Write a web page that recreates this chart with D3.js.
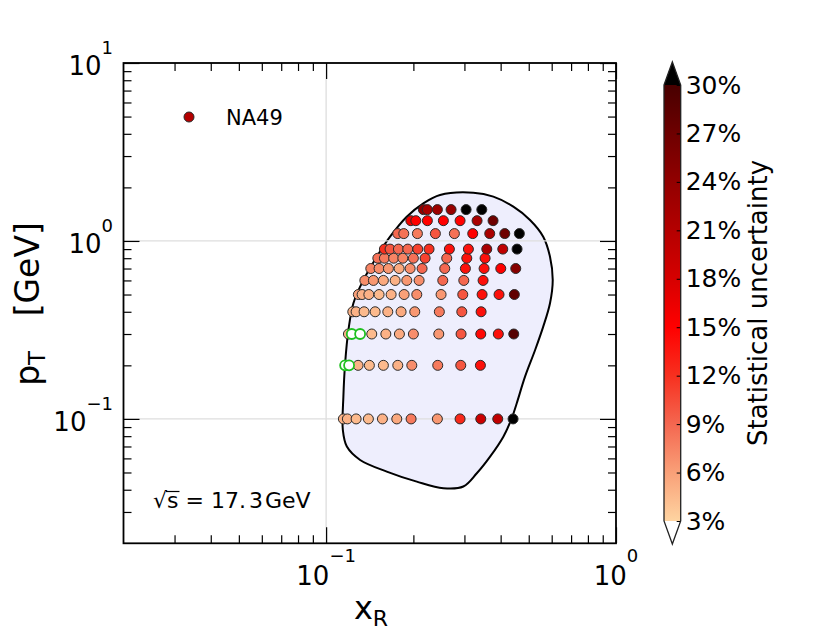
<!DOCTYPE html>
<html>
<head>
<meta charset="utf-8">
<script src="https://cdn.jsdelivr.net/npm/d3@7"></script>
<style>
  body { margin: 0; background: #fff; }
  svg text { font-family: "DejaVu Sans", sans-serif; fill: #000; }
  .tick line { stroke: #000; stroke-width: 1.2; }
</style>
</head>
<body>
<div id="chart"></div>
<script>
// transverse momentum rows (GeV)
var ptRows = [0.1, 0.2, 0.3, 0.4, 0.5, 0.6, 0.7, 0.8, 0.9, 1.1, 1.3, 1.5];

// x_R of each point, one list per pT row
var xrRows = [
  [0.1147, 0.1184, 0.1269, 0.1399, 0.1564, 0.1753, 0.1964, 0.2420, 0.2898, 0.3416, 0.3909, 0.4415],
  [0.1289, 0.1410, 0.1576, 0.1767, 0.1975, 0.2427, 0.2914, 0.3406],
  [0.1194, 0.1437, 0.1607, 0.1790, 0.2000, 0.2447, 0.2921, 0.3416, 0.3927, 0.4439],
  [0.1236, 0.1269, 0.1352, 0.1476, 0.1632, 0.1814, 0.2022, 0.2458, 0.2938, 0.3425],
  [0.1292, 0.1331, 0.1404, 0.1523, 0.1676, 0.1858, 0.2055, 0.2492, 0.2961, 0.3452, 0.3949, 0.4460],
  [0.1360, 0.1456, 0.1576, 0.1730, 0.1898, 0.2093, 0.2526, 0.2985, 0.3479],
  [0.1426, 0.1523, 0.1640, 0.1786, 0.1949, 0.2143, 0.2566, 0.3023, 0.3507, 0.4004, 0.4510],
  [0.1508, 0.1589, 0.1710, 0.1839, 0.2000, 0.2195, 0.2607, 0.3057, 0.3535],
  [0.1589, 0.1662, 0.1776, 0.1913, 0.2071, 0.2265, 0.2662, 0.3096, 0.3583, 0.4068, 0.4557],
  [0.1767, 0.1853, 0.2065, 0.2382, 0.2770, 0.3205, 0.3668, 0.4134, 0.4641],
  [0.1960, 0.2039, 0.2235, 0.2538, 0.2898, 0.3317, 0.3766],
  [0.2165, 0.2235, 0.2420, 0.2698, 0.3040, 0.3444]
];

// statistical uncertainty (%) of each point
var uncRows = [
  [5, 5, 4.5, 4.5, 5, 5.5, 8, 6.5, 12.5, 19, 20, 35],
  [5, 4.5, 4.5, 5, 7, 8, 10, 14],
  [5, 4.5, 5, 5.5, 7, 6.5, 10, 14.5, 14, 29],
  [5, 5, 4.5, 4.5, 5, 5.5, 6.5, 8, 10, 14],
  [6, 5, 5, 4.5, 5, 6, 7, 6.5, 10, 14, 14, 28],
  [7, 6.5, 5.5, 5, 6.5, 7, 9, 9, 14],
  [7.5, 7, 6.5, 5.5, 7, 9, 9, 14, 14, 15, 25],
  [8.5, 8, 7.5, 7.5, 8.5, 11, 9, 14, 14],
  [12, 10, 9, 9, 11, 12, 14, 14, 22, 20, 35],
  [9, 8.5, 8, 10, 8.5, 15, 22, 27, 35],
  [16, 15, 15, 15, 15, 22, 27],
  [24, 22, 23, 23.5, 35, 35]
];

// open green points
var lowXr = [0.1163, 0.1200, 0.1226, 0.1310];
var lowPt = [0.2, 0.2, 0.3, 0.3];

// acceptance region outline
var regionXr = [0.2472, 0.322, 0.3775, 0.4425, 0.505, 0.561, 0.592, 0.605, 0.592, 0.561, 0.526,
  0.4855, 0.4546, 0.437, 0.4087, 0.3678, 0.331, 0.2974, 0.2538, 0.2055, 0.1619, 0.131, 0.1179,
  0.1142, 0.1147, 0.1163, 0.1194, 0.1242, 0.1345, 0.1496, 0.1662, 0.1897, 0.2165];
var regionPt = [1.814, 1.867, 1.774, 1.558, 1.312, 1.057, 0.816, 0.604, 0.4467, 0.330, 0.244,
  0.1728, 0.1225, 0.1009, 0.0795, 0.0614, 0.0495, 0.0417, 0.0408, 0.0444, 0.0506, 0.0588, 0.0699,
  0.0867, 0.1334, 0.2055, 0.3162, 0.4467, 0.604, 0.816, 1.057, 1.369, 1.628];

// colour map
var cbStops = [3, 6, 9, 12, 15, 18, 21, 24, 27, 30];
var cbColors = ["#fed4a1", "#f9a078", "#f46750", "#f7301f", "#ff0000", "#d60000", "#b40000", "#920000", "#6e0000", "#480000"];
var cbTicks = [3, 6, 9, 12, 15, 18, 21, 24, 27, 30];

var xMajor = [0.1, 1], xMinor = [0.03, 0.04, 0.05, 0.06, 0.07, 0.08, 0.09, 0.2, 0.3, 0.4, 0.5, 0.6, 0.7, 0.8, 0.9];
var yMajor = [0.1, 1, 10], yMinor = [0.03, 0.04, 0.05, 0.06, 0.07, 0.08, 0.09, 0.2, 0.3, 0.4, 0.5, 0.6, 0.7, 0.8, 0.9, 2, 3, 4, 5, 6, 7, 8, 9];
var xLabels = [[0.1, "\u22121"], [1, "0"]];
var yLabels = [[0.1, "\u22121"], [1, "0"], [10, "1"]];

var width = 830, height = 639;
var plot = {left: 123.5, right: 616, top: 63, bottom: 543.3};

var svg = d3.select("#chart").append("svg")
    .attr("width", width)
    .attr("height", height);

var x = d3.scaleLog().domain([0.02, 1]).range([plot.left, plot.right]);
var y = d3.scaleLog().domain([0.02, 10]).range([plot.bottom, plot.top]);

var color = d3.scaleLinear().domain(cbStops).range(cbColors).clamp(true);
function fillFor(v) { return v > 30 ? "#000" : (v < 3 ? "#fff" : color(v)); }

// region
var line = d3.line()
    .x(function(d) { return x(d[0]); })
    .y(function(d) { return y(d[1]); })
    .curve(d3.curveCatmullRomClosed.alpha(0.5));
svg.append("path")
    .datum(regionXr.map(function(v, i) { return [v, regionPt[i]]; }))
    .attr("d", line)
    .attr("fill", "#eeeefd")
    .attr("stroke", "#000")
    .attr("stroke-width", 2);

// grid
var grid = svg.append("g").attr("stroke", "#dedede").attr("stroke-width", 1.3);
grid.selectAll(".gx").data(xMajor).enter().append("line")
    .attr("x1", function(d) { return x(d); }).attr("x2", function(d) { return x(d); })
    .attr("y1", plot.top).attr("y2", plot.bottom);
grid.selectAll(".gy").data(yMajor).enter().append("line")
    .attr("y1", function(d) { return y(d); }).attr("y2", function(d) { return y(d); })
    .attr("x1", plot.left).attr("x2", plot.right);

// axes with inward ticks on all sides
function addAxis(axis, tx, ty) {
  var g = svg.append("g").attr("transform", "translate(" + tx + "," + ty + ")").call(axis);
  g.select(".domain").remove();
  g.selectAll("text").remove();
}
[[xMajor, 16], [xMinor, 8]].forEach(function(p) {
  addAxis(d3.axisBottom(x).tickValues(p[0]).tickSize(-p[1]), 0, plot.bottom);
  addAxis(d3.axisTop(x).tickValues(p[0]).tickSize(-p[1]), 0, plot.top);
});
[[yMajor, 16], [yMinor, 8]].forEach(function(p) {
  addAxis(d3.axisLeft(y).tickValues(p[0]).tickSize(-p[1]), plot.left, 0);
  addAxis(d3.axisRight(y).tickValues(p[0]).tickSize(-p[1]), plot.right, 0);
});

svg.append("rect")
    .attr("x", plot.left).attr("y", plot.top)
    .attr("width", plot.right - plot.left).attr("height", plot.bottom - plot.top)
    .attr("fill", "none").attr("stroke", "#000").attr("stroke-width", 1.8);

// tick labels
xLabels.forEach(function(l) {
  var t = svg.append("text").attr("x", x(l[0])).attr("y", 585).attr("text-anchor", "middle");
  t.append("tspan").attr("font-size", 26).text("10");
  t.append("tspan").attr("font-size", 18).attr("dy", -23).text(l[1]);
});
yLabels.forEach(function(l) {
  var t = svg.append("text").attr("x", 113).attr("y", y(l[0]) + 12).attr("text-anchor", "end");
  t.append("tspan").attr("font-size", 26).text("10");
  t.append("tspan").attr("font-size", 18).attr("dy", -21).text(l[1]);
});

// axis titles
var xt = svg.append("text").attr("x", 371).attr("y", 619).attr("text-anchor", "middle");
xt.append("tspan").attr("font-size", 32).text("x");
xt.append("tspan").attr("font-size", 22).attr("dy", 7).text("R");

var yt = svg.append("text").attr("transform", "translate(39,304) rotate(-90)").attr("text-anchor", "middle");
yt.append("tspan").attr("font-size", 33).text("p");
yt.append("tspan").attr("font-size", 23).attr("dy", 6).text("T");
yt.append("tspan").attr("font-size", 33).attr("dy", -6).attr("dx", 3).text("\u00a0\u00a0\u00a0[GeV]");

// data points
var pts = [];
ptRows.forEach(function(pt, i) {
  xrRows[i].forEach(function(xr, j) { pts.push({xr: xr, pt: pt, u: uncRows[i][j]}); });
});
svg.append("g").selectAll("circle").data(pts).enter().append("circle")
    .attr("cx", function(d) { return x(d.xr); })
    .attr("cy", function(d) { return y(d.pt); })
    .attr("r", 5)
    .attr("fill", function(d) { return fillFor(d.u); })
    .attr("stroke", "#2a2a2a")
    .attr("stroke-width", 1);

svg.append("g").selectAll("circle").data(lowXr).enter().append("circle")
    .attr("cx", function(d) { return x(d); })
    .attr("cy", function(d, i) { return y(lowPt[i]); })
    .attr("r", 5)
    .attr("fill", "#fff")
    .attr("stroke", "#1fc01f")
    .attr("stroke-width", 1.8);

// legend
svg.append("circle").attr("cx", 189).attr("cy", 117).attr("r", 5)
    .attr("fill", fillFor(21)).attr("stroke", "#2a2a2a").attr("stroke-width", 1);
svg.append("text").attr("x", 226).attr("y", 125).attr("font-size", 21).text("NA49");

// sqrt(s) annotation
var sq = svg.append("text").attr("x", 153).attr("y", 508).attr("font-size", 22);
sq.append("tspan").text("\u221as");
sq.append("tspan").text(" = 17.");
sq.append("tspan").attr("dx", 3).text("3");
sq.append("tspan").attr("dx", 2).text("GeV");
var sn = sq.node();
var s0 = sn.getStartPositionOfChar(1).x, s1 = sn.getEndPositionOfChar(1).x;
svg.append("line").attr("x1", s0 - 1).attr("x2", s1 + 1)
    .attr("y1", 491.5).attr("y2", 491.5).attr("stroke", "#000").attr("stroke-width", 1.2);

// colour bar
var cb = {x0: 664, x1: 680.7, top: 85, bottom: 521, tip: 23};
var cbY = d3.scaleLinear().domain([3, 30]).range([cb.bottom, cb.top]);
var grad = svg.append("defs").append("linearGradient").attr("id", "cbgrad")
    .attr("x1", 0).attr("y1", 1).attr("x2", 0).attr("y2", 0);
cbStops.forEach(function(v, i) {
  grad.append("stop").attr("offset", (v - 3) / 27).attr("stop-color", cbColors[i]);
});
svg.append("rect").attr("x", cb.x0).attr("y", cb.top)
    .attr("width", cb.x1 - cb.x0).attr("height", cb.bottom - cb.top)
    .attr("fill", "url(#cbgrad)");
var cmid = (cb.x0 + cb.x1) / 2;
svg.append("path")
    .attr("d", "M" + cb.x0 + "," + cb.top + "L" + cmid + "," + (cb.top - cb.tip) + "L" + cb.x1 + "," + cb.top + "Z")
    .attr("fill", "#000");
svg.append("path")
    .attr("d", "M" + cb.x0 + "," + cb.bottom + "L" + cmid + "," + (cb.bottom + cb.tip) + "L" + cb.x1 + "," + cb.bottom + "Z")
    .attr("fill", "#fff");
var cbAxis = svg.append("g").attr("transform", "translate(" + cb.x1 + ",0)")
    .call(d3.axisRight(cbY).tickValues(cbTicks).tickSize(-4).tickPadding(5)
      .tickFormat(function(d) { return d + "%"; }));
cbAxis.select(".domain").remove();
cbAxis.selectAll("line").attr("stroke", "#333").style("stroke-width", 1);
cbAxis.selectAll("text").attr("font-size", 25).attr("font-family", null).attr("fill", "#000");
svg.append("path")
    .attr("d", "M" + cb.x0 + "," + cb.top + "L" + cmid + "," + (cb.top - cb.tip) + "L" + cb.x1 + "," + cb.top +
      "L" + cb.x1 + "," + cb.bottom + "L" + cmid + "," + (cb.bottom + cb.tip) + "L" + cb.x0 + "," + cb.bottom + "Z")
    .attr("fill", "none").attr("stroke", "#222").attr("stroke-width", 1.3);

svg.append("text")
    .attr("transform", "translate(767," + ((cb.top + cb.bottom) / 2) + ") rotate(-90)")
    .attr("text-anchor", "middle").attr("font-size", 26)
    .text("Statistical uncertainty");
</script>
</body>
</html>
